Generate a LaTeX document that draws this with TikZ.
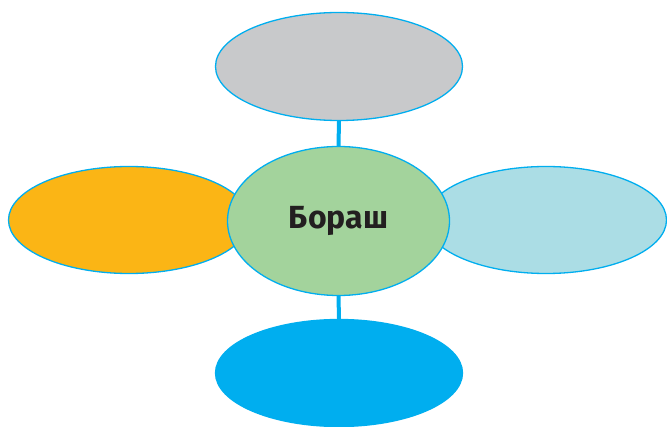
\documentclass[tikz,border=0pt]{standalone}
\usepackage{fontspec}
\setmainfont{Fira Sans}
\usetikzlibrary{shapes.geometric,backgrounds}
\definecolor{edge}{HTML}{00AEEF}
\definecolor{cgray}{HTML}{C8C9CB}
\definecolor{corange}{HTML}{FBB515}
\definecolor{clight}{HTML}{ABDDE5}
\definecolor{cblue}{HTML}{00AEEF}
\definecolor{cgreen}{HTML}{A3D39C}
\definecolor{ctext}{HTML}{231F20}
\tikzset{
  bubble/.style={ellipse, draw=edge, line width=1.3pt, inner sep=0pt},
  link/.style={draw=edge, line width=4pt}
}
\begin{document}
\begin{tikzpicture}[x=1pt,y=1pt]
\useasboundingbox (0,0) rectangle (667,426);
\node[bubble, fill=cgray, minimum width=247pt, minimum height=108pt] (top) at (339,359.5) {};
\node[bubble, fill=corange, minimum width=241pt, minimum height=107pt] (left) at (129,206) {};
\node[bubble, fill=clight, minimum width=241pt, minimum height=107pt] (right) at (546,206) {};
\node[bubble, fill=cblue, draw=cblue, minimum width=247pt, minimum height=107pt] (bottom) at (339,53) {};
\node[bubble, fill=cgreen, minimum width=222pt, minimum height=149pt, font=\bfseries\fontsize{32}{38}\selectfont, text=ctext] (center) at (338.5,205) {Бораш};
\begin{scope}[on background layer]
\draw[link] (top.south) -- (center.north);
\draw[link] (center.south) -- (bottom.north);
\end{scope}
\end{tikzpicture}
\end{document}
